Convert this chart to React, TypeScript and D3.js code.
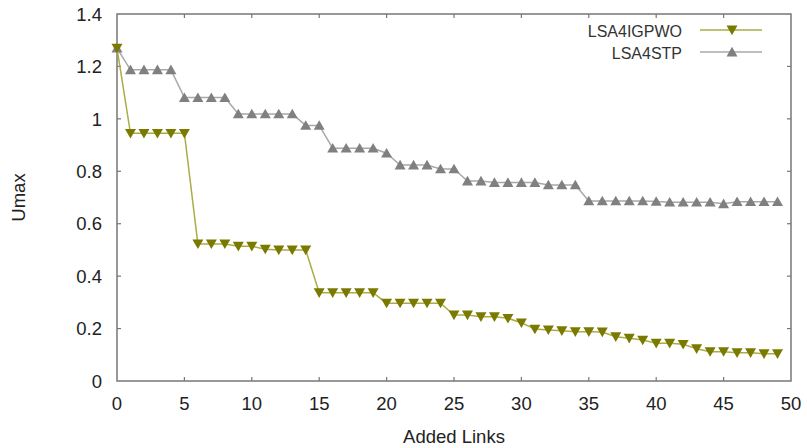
import React, { useEffect, useRef } from "react";
import * as d3 from "d3";

// Added links 0..49
const links = d3.range(0, 50);

const igpwo = [
  1.27, 0.945, 0.945, 0.945, 0.945, 0.945,
  0.523, 0.523, 0.523, 0.514, 0.514, 0.503, 0.5, 0.5, 0.5,
  0.337, 0.337, 0.337, 0.337, 0.337,
  0.297, 0.297, 0.297, 0.297, 0.297,
  0.252, 0.252, 0.245, 0.245, 0.239, 0.222,
  0.198, 0.195, 0.192, 0.188, 0.188, 0.187,
  0.169, 0.163, 0.156, 0.144, 0.144, 0.14,
  0.123, 0.112, 0.112, 0.108, 0.108, 0.104, 0.104,
];

const stp = [
  1.27, 1.187, 1.187, 1.187, 1.187,
  1.081, 1.081, 1.081, 1.081,
  1.019, 1.019, 1.019, 1.019, 1.019,
  0.975, 0.975,
  0.888, 0.888, 0.888, 0.888, 0.869,
  0.824, 0.824, 0.824, 0.809, 0.809,
  0.763, 0.763, 0.757, 0.757, 0.757, 0.757,
  0.748, 0.748, 0.748,
  0.687, 0.687, 0.687, 0.687, 0.687, 0.685,
  0.682, 0.682, 0.682, 0.682, 0.676,
  0.684, 0.684, 0.684, 0.684,
];

const xTicks = [0, 5, 10, 15, 20, 25, 30, 35, 40, 45, 50];
const yTicks = [0, 0.2, 0.4, 0.6, 0.8, 1, 1.2, 1.4];

const series = [
  { name: "LSA4IGPWO", values: igpwo, line: "#a9ad45", marker: "#7a7a00", down: true },
  { name: "LSA4STP", values: stp, line: "#a8a8a8", marker: "#808080", down: false },
];

const W = 807, H = 448;
const m = { left: 117, right: 16, top: 14, bottom: 67 };
const font = "'Liberation Sans', Arial, sans-serif";

const App = () => {
  const svgRef = useRef(null);

  useEffect(() => {
    const svg = d3.select(svgRef.current);
    svg.selectAll("*").remove();

    const x = d3.scaleLinear().domain([0, 50]).range([m.left, W - m.right]);
    const y = d3.scaleLinear().domain([0, 1.4]).range([H - m.bottom, m.top]);
    const x0 = x(0), x1 = x(50), y0 = y(0), y1 = y(1.4);
    const axisColor = "#777";

    // frame
    svg.append("rect")
      .attr("x", x0).attr("y", y1)
      .attr("width", x1 - x0).attr("height", y0 - y1)
      .attr("fill", "none").attr("stroke", axisColor).attr("stroke-width", 1.5);

    // ticks (mirrored, pointing inward)
    const tl = 4;
    xTicks.slice(1, -1).forEach(t => {
      svg.append("line").attr("x1", x(t)).attr("x2", x(t)).attr("y1", y0).attr("y2", y0 - tl)
        .attr("stroke", axisColor).attr("stroke-width", 1.2);
      svg.append("line").attr("x1", x(t)).attr("x2", x(t)).attr("y1", y1).attr("y2", y1 + tl)
        .attr("stroke", axisColor).attr("stroke-width", 1.2);
    });
    yTicks.slice(1, -1).forEach(t => {
      svg.append("line").attr("x1", x0).attr("x2", x0 + tl).attr("y1", y(t)).attr("y2", y(t))
        .attr("stroke", axisColor).attr("stroke-width", 1.2);
      svg.append("line").attr("x1", x1).attr("x2", x1 - tl).attr("y1", y(t)).attr("y2", y(t))
        .attr("stroke", axisColor).attr("stroke-width", 1.2);
    });

    // tick labels
    svg.selectAll(".xl").data(xTicks).enter().append("text")
      .attr("x", d => x(d)).attr("y", y0 + 29)
      .attr("text-anchor", "middle").attr("font-family", font).attr("font-size", 18.5)
      .attr("fill", "#222").text(d => d);
    svg.selectAll(".yl").data(yTicks).enter().append("text")
      .attr("x", x0 - 15).attr("y", d => y(d)).attr("dy", "0.36em")
      .attr("text-anchor", "end").attr("font-family", font).attr("font-size", 18.5)
      .attr("fill", "#222").text(d => d);

    // axis titles
    svg.append("text")
      .attr("x", 454).attr("y", 443)
      .attr("text-anchor", "middle").attr("font-family", font).attr("font-size", 18.5)
      .attr("fill", "#222").text("Added Links");
    svg.append("text")
      .attr("transform", `translate(25,${(y0 + y1) / 2}) rotate(-90)`)
      .attr("text-anchor", "middle").attr("font-family", font).attr("font-size", 18.5)
      .attr("fill", "#222").text("Umax");

    const tri = (down) => {
      const s = 5.5;
      return down
        ? `M${-s},${-s * 0.8}L${s},${-s * 0.8}L0,${s * 0.95}Z`
        : `M${-s},${s * 0.8}L${s},${s * 0.8}L0,${-s * 0.95}Z`;
    };

    const line = d3.line().x((d, i) => x(links[i])).y(d => y(d));

    // draw STP first so IGPWO sits on top at start
    [...series].reverse().forEach(s => {
      svg.append("path").datum(s.values)
        .attr("fill", "none").attr("stroke", s.line).attr("stroke-width", 1.5)
        .attr("d", line);
      svg.selectAll(null).data(s.values).enter().append("path")
        .attr("transform", (d, i) => `translate(${x(links[i])},${y(d)})`)
        .attr("d", tri(s.down)).attr("fill", s.marker);
    });

    // legend
    series.forEach((s, i) => {
      const ly = 30 + i * 22;
      svg.append("text")
        .attr("x", 682).attr("y", ly + 7)
        .attr("text-anchor", "end").attr("font-family", font).attr("font-size", 16)
        .attr("fill", "#333").text(s.name);
      svg.append("line").attr("x1", 700).attr("x2", 762).attr("y1", ly).attr("y2", ly)
        .attr("stroke", s.line).attr("stroke-width", 1.5);
      svg.append("path").attr("transform", `translate(732,${ly})`)
        .attr("d", tri(s.down)).attr("fill", s.marker);
    });
  }, []);

  return (
    <svg ref={svgRef} width={W} height={H}
      style={{ position: "absolute", left: 0, top: 0, background: "#fff" }} />
  );
};

export default App;
